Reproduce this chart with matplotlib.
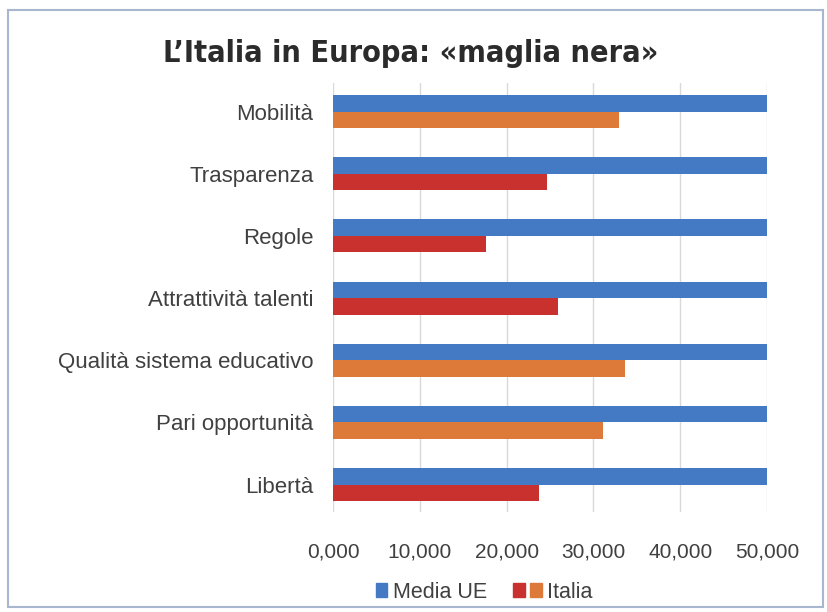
import matplotlib
matplotlib.use("Agg")
import matplotlib.pyplot as plt
import numpy as np
from matplotlib.patches import Patch, Rectangle
from matplotlib.legend_handler import HandlerTuple
from matplotlib.ticker import FuncFormatter

# Indicatori, dall'alto verso il basso
categorie = ["Mobilità", "Trasparenza", "Regole", "Attrattività talenti",
             "Qualità sistema educativo", "Pari opportunità", "Libertà"]
media_ue = [50, 50, 50, 50, 50, 50, 50]
italia = [32.9, 24.6, 17.6, 25.9, 33.6, 31.1, 23.7]
# colore della barra Italia per ogni indicatore
italia_col = ["arancio", "rosso", "rosso", "rosso", "arancio", "arancio", "rosso"]
x_ticks = [0, 10, 20, 30, 40, 50]

BLU = "#4479C3"
ROSSO = "#C8312E"
ARANCIO = "#DD7A3A"
TESTO = "#404040"

plt.rcParams['font.family'] = ['Liberation Sans', 'DejaVu Sans']

fig = plt.figure(figsize=(8.27, 6.12), dpi=100)
ax = fig.add_axes([0.4027, 0.1634, 0.5247, 0.701])

y = np.arange(len(categorie))
h = 0.265
colori = [ARANCIO if c == "arancio" else ROSSO for c in italia_col]
ax.barh(y - h / 2, media_ue, height=h, color=BLU, zorder=2)
ax.barh(y + h / 2, italia, height=h, color=colori, zorder=2)

ax.set_ylim(len(categorie) - 0.56, -0.46)
ax.set_xlim(0, 50)
ax.set_yticks(y)
ax.set_yticklabels(categorie, fontsize=16, color=TESTO)
ax.set_xticks(x_ticks)
ax.xaxis.set_major_formatter(FuncFormatter(lambda v, p: f"{int(v)},000"))
ax.tick_params(axis="x", labelsize=15, colors=TESTO, length=0, pad=22)
ax.tick_params(axis="y", length=0, pad=14)
ax.grid(axis="x", color="#D9D9D9", linewidth=1, zorder=0)
for s in ax.spines.values():
    s.set_visible(False)

fig.text(0.497, 0.912, "L\u2019Italia in Europa: \u00abmaglia nera\u00bb",
         ha="center", va="center", fontsize=22, fontweight="bold",
         fontstretch="condensed", color="#2B2B2B",
         family=["DejaVu Sans"])

# quadratini della legenda: per "Media UE" un solo quadrato accanto al testo
vuoto = Patch(facecolor="none", edgecolor="none")
handles = [(vuoto, Patch(color=BLU)), (Patch(color=ROSSO), Patch(color=ARANCIO))]
fig.legend(handles, ["Media UE", "Italia"], loc="center", bbox_to_anchor=(0.575, 0.032),
           ncol=2, frameon=False, fontsize=15.5, labelcolor=TESTO,
           handler_map={tuple: HandlerTuple(ndivide=None, pad=0.25)},
           handlelength=1.35, handleheight=0.6, handletextpad=0.25, columnspacing=1.2)

# cornice del riquadro
fig.patches.append(Rectangle((0.010, 0.008), 0.985, 0.975, transform=fig.transFigure,
                             fill=False, edgecolor="#A8B7CF", linewidth=1.5))

fig.savefig("out.png", dpi=100)
